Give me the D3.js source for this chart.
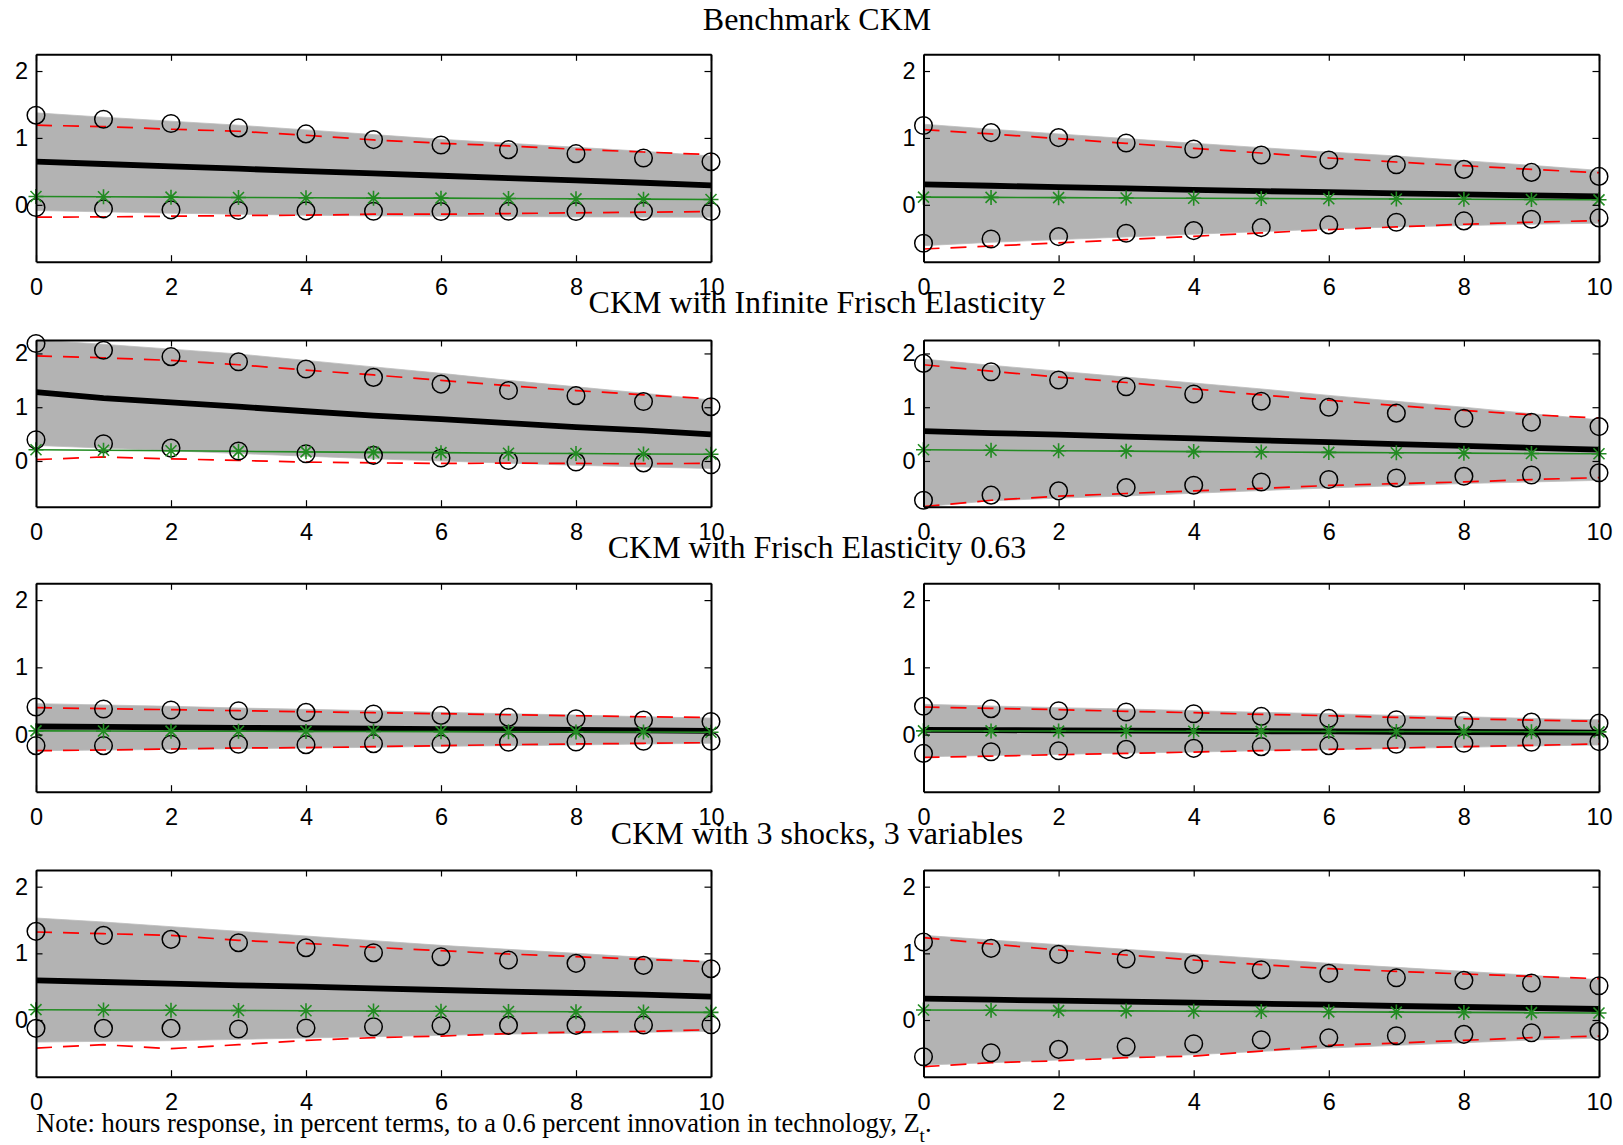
<!DOCTYPE html>
<html>
<head>
<meta charset="utf-8">
<script src="https://cdn.jsdelivr.net/npm/d3@7"></script>
<style>
  html, body { margin: 0; padding: 0; background: #fff; }
  svg { display: block; }
</style>
</head>
<body>
<script>
// ---------------- DATA ----------------
const titles = [
  "Benchmark CKM",
  "CKM with Infinite Frisch Elasticity",
  "CKM with Frisch Elasticity 0.63",
  "CKM with 3 shocks, 3 variables"
];
const noteText = "Note: hours response, in percent terms, to a 0.6 percent innovation in technology, Z";
const noteSub = "t";
const horizon = [0, 1, 2, 3, 4, 5, 6, 7, 8, 9, 10];
const xTickValues = [0, 2, 4, 6, 8, 10];
const yTickValues = [0, 1, 2];
const yRange = [-0.85, 2.25];

// panels in reading order: row1-left, row1-right, row2-left, ...
const bandUpper = [
  [1.375, 1.31, 1.25, 1.19, 1.12, 1.05, 0.98, 0.92, 0.86, 0.80, 0.73],
  [1.205, 1.13, 1.06, 0.99, 0.92, 0.855, 0.79, 0.73, 0.66, 0.59, 0.515],
  [2.25, 2.17, 2.08, 1.99, 1.87, 1.75, 1.63, 1.50, 1.38, 1.26, 1.135],
  [1.895, 1.78, 1.67, 1.56, 1.45, 1.34, 1.22, 1.11, 1.00, 0.88, 0.765],
  [0.46, 0.44, 0.42, 0.395, 0.375, 0.355, 0.33, 0.31, 0.29, 0.265, 0.245],
  [0.45, 0.425, 0.40, 0.38, 0.355, 0.33, 0.31, 0.285, 0.265, 0.24, 0.22],
  [1.53, 1.47, 1.40, 1.33, 1.26, 1.19, 1.12, 1.06, 1.00, 0.94, 0.875],
  [1.27, 1.20, 1.13, 1.06, 0.99, 0.92, 0.85, 0.79, 0.73, 0.67, 0.605]
];
const bandLower = [
  [-0.085, -0.105, -0.125, -0.14, -0.155, -0.165, -0.17, -0.175, -0.18, -0.183, -0.185],
  [-0.61, -0.56, -0.52, -0.48, -0.44, -0.40, -0.36, -0.33, -0.31, -0.29, -0.275],
  [0.29, 0.24, 0.19, 0.14, 0.09, 0.04, 0.00, -0.04, -0.08, -0.11, -0.14],
  [-0.85, -0.74, -0.69, -0.65, -0.60, -0.55, -0.50, -0.46, -0.42, -0.39, -0.36],
  [-0.24, -0.23, -0.22, -0.21, -0.2, -0.19, -0.175, -0.165, -0.155, -0.14, -0.13],
  [-0.33, -0.31, -0.295, -0.275, -0.26, -0.24, -0.225, -0.205, -0.19, -0.17, -0.155],
  [-0.33, -0.32, -0.31, -0.29, -0.27, -0.25, -0.23, -0.21, -0.20, -0.185, -0.17],
  [-0.675, -0.64, -0.60, -0.56, -0.52, -0.47, -0.42, -0.38, -0.34, -0.30, -0.27]
];
const dashUpper = [
  [1.19, 1.17, 1.13, 1.10, 1.04, 0.97, 0.92, 0.88, 0.83, 0.79, 0.75],
  [1.125, 1.06, 0.99, 0.92, 0.845, 0.775, 0.70, 0.64, 0.585, 0.53, 0.48],
  [1.955, 1.92, 1.87, 1.79, 1.69, 1.60, 1.50, 1.40, 1.31, 1.23, 1.155],
  [1.79, 1.67, 1.56, 1.46, 1.34, 1.23, 1.13, 1.03, 0.94, 0.86, 0.80],
  [0.40, 0.385, 0.37, 0.355, 0.34, 0.325, 0.31, 0.295, 0.28, 0.265, 0.255],
  [0.41, 0.39, 0.37, 0.345, 0.325, 0.30, 0.28, 0.255, 0.235, 0.215, 0.195],
  [1.32, 1.295, 1.27, 1.195, 1.15, 1.09, 1.04, 0.99, 0.95, 0.91, 0.875],
  [1.235, 1.14, 1.05, 0.975, 0.90, 0.83, 0.77, 0.73, 0.69, 0.655, 0.62]
];
const dashLower = [
  [-0.185, -0.18, -0.17, -0.16, -0.155, -0.14, -0.14, -0.13, -0.12, -0.11, -0.10],
  [-0.66, -0.615, -0.57, -0.52, -0.47, -0.42, -0.37, -0.33, -0.29, -0.26, -0.235],
  [0.025, 0.075, 0.04, 0.01, -0.02, -0.035, -0.045, -0.04, -0.045, -0.05, -0.045],
  [-0.85, -0.73, -0.655, -0.605, -0.555, -0.51, -0.455, -0.42, -0.39, -0.345, -0.31],
  [-0.24, -0.23, -0.215, -0.2, -0.195, -0.18, -0.165, -0.15, -0.14, -0.13, -0.12],
  [-0.34, -0.32, -0.30, -0.28, -0.26, -0.24, -0.22, -0.2, -0.18, -0.16, -0.14],
  [-0.42, -0.37, -0.43, -0.37, -0.305, -0.265, -0.24, -0.205, -0.18, -0.17, -0.145],
  [-0.70, -0.64, -0.61, -0.565, -0.54, -0.465, -0.38, -0.345, -0.305, -0.265, -0.24]
];
const circleUpper = [
  [1.34, 1.28, 1.215, 1.15, 1.06, 0.975, 0.895, 0.825, 0.765, 0.70, 0.645],
  [1.185, 1.08, 1.005, 0.925, 0.835, 0.745, 0.67, 0.60, 0.53, 0.485, 0.425],
  [2.185, 2.06, 1.94, 1.845, 1.71, 1.555, 1.43, 1.31, 1.215, 1.105, 1.01],
  [1.815, 1.66, 1.505, 1.38, 1.245, 1.11, 1.00, 0.89, 0.795, 0.72, 0.64],
  [0.41, 0.38, 0.365, 0.355, 0.33, 0.305, 0.285, 0.255, 0.235, 0.215, 0.195],
  [0.42, 0.385, 0.355, 0.335, 0.31, 0.27, 0.24, 0.22, 0.20, 0.185, 0.17],
  [1.33, 1.27, 1.21, 1.16, 1.085, 1.01, 0.95, 0.90, 0.85, 0.82, 0.77],
  [1.17, 1.075, 0.985, 0.915, 0.835, 0.755, 0.70, 0.635, 0.595, 0.555, 0.515]
];
const circleLower = [
  [-0.04, -0.06, -0.075, -0.085, -0.09, -0.095, -0.10, -0.095, -0.10, -0.095, -0.10],
  [-0.575, -0.51, -0.475, -0.425, -0.385, -0.34, -0.30, -0.26, -0.24, -0.215, -0.195],
  [0.395, 0.32, 0.24, 0.185, 0.135, 0.105, 0.055, 0.01, -0.02, -0.035, -0.07],
  [-0.73, -0.635, -0.555, -0.495, -0.45, -0.39, -0.345, -0.315, -0.285, -0.26, -0.22],
  [-0.165, -0.165, -0.145, -0.145, -0.15, -0.135, -0.14, -0.115, -0.11, -0.10, -0.10],
  [-0.28, -0.255, -0.24, -0.22, -0.205, -0.18, -0.165, -0.145, -0.13, -0.115, -0.105],
  [-0.125, -0.125, -0.125, -0.135, -0.12, -0.10, -0.085, -0.08, -0.08, -0.075, -0.07],
  [-0.55, -0.49, -0.44, -0.40, -0.355, -0.295, -0.265, -0.235, -0.215, -0.19, -0.17]
];
const meanResponse = [
  [0.645, 0.61, 0.575, 0.54, 0.505, 0.47, 0.435, 0.40, 0.365, 0.33, 0.29],
  [0.305, 0.285, 0.265, 0.245, 0.225, 0.205, 0.19, 0.17, 0.155, 0.14, 0.125],
  [1.28, 1.17, 1.09, 1.01, 0.925, 0.845, 0.78, 0.705, 0.63, 0.57, 0.495],
  [0.555, 0.52, 0.49, 0.455, 0.42, 0.385, 0.35, 0.315, 0.28, 0.245, 0.21],
  [0.12, 0.113, 0.107, 0.1, 0.094, 0.088, 0.081, 0.075, 0.068, 0.062, 0.055],
  [0.07, 0.066, 0.062, 0.058, 0.054, 0.05, 0.046, 0.042, 0.038, 0.034, 0.03],
  [0.595, 0.57, 0.545, 0.52, 0.50, 0.475, 0.45, 0.425, 0.405, 0.38, 0.35],
  [0.32, 0.305, 0.29, 0.275, 0.26, 0.245, 0.23, 0.21, 0.195, 0.18, 0.165]
];
const modelResponse = [
  [0.125, 0.12, 0.115, 0.11, 0.105, 0.10, 0.10, 0.095, 0.09, 0.085, 0.08],
  [0.115, 0.111, 0.107, 0.103, 0.099, 0.095, 0.091, 0.087, 0.083, 0.079, 0.075],
  [0.21, 0.20, 0.19, 0.18, 0.17, 0.16, 0.155, 0.145, 0.14, 0.13, 0.125],
  [0.21, 0.2, 0.19, 0.183, 0.175, 0.168, 0.16, 0.153, 0.146, 0.14, 0.135],
  [0.055, 0.053, 0.051, 0.049, 0.047, 0.045, 0.043, 0.041, 0.039, 0.037, 0.035],
  [0.055, 0.054, 0.052, 0.051, 0.049, 0.048, 0.046, 0.045, 0.043, 0.042, 0.04],
  [0.155, 0.151, 0.147, 0.143, 0.139, 0.135, 0.131, 0.127, 0.123, 0.119, 0.115],
  [0.15, 0.146, 0.141, 0.137, 0.132, 0.128, 0.123, 0.119, 0.114, 0.11, 0.105]
];

// ---------------- LAYOUT ----------------
const W = 1623, H = 1145;
const colX = [[36, 711], [923.5, 1599]];
const rowY = [[54.3, 261.7], [340, 506.7], [583.3, 791.7], [870, 1076.7]];
const titleBaseline = [29.5, 313, 557.5, 844];
const titleX = 817;
const tickFont = "'Liberation Sans', Arial, Helvetica, sans-serif";
const serifFont = "'Liberation Serif', 'Times New Roman', Times, serif";

const svg = d3.select("body").append("svg")
  .attr("width", W).attr("height", H)
  .attr("viewBox", `0 0 ${W} ${H}`);

svg.append("rect").attr("width", W).attr("height", H).attr("fill", "#fff");

const defs = svg.append("defs");
const asterisk = "M-7.5,0H7.5M0,-7.5V7.5M-5.5,-5.5L5.5,5.5M-5.5,5.5L5.5,-5.5";

for (let i = 0; i < 8; i++) {
  const r = Math.floor(i / 2), c = i % 2;
  const x = d3.scaleLinear().domain([0, 10]).range(colX[c]);
  const y = d3.scaleLinear().domain(yRange).range([rowY[r][1], rowY[r][0]]);
  const g = svg.append("g").attr("class", "panel");

  const clipId = "clip" + i;
  defs.append("clipPath").attr("id", clipId)
    .append("rect")
    .attr("x", colX[c][0]).attr("y", rowY[r][0])
    .attr("width", colX[c][1] - colX[c][0])
    .attr("height", rowY[r][1] - rowY[r][0]);

  const plot = g.append("g");
  const clipped = plot.append("g").attr("clip-path", `url(#${clipId})`);

  // band
  const area = d3.area()
    .x((d, j) => x(horizon[j]))
    .y0((d, j) => y(bandLower[i][j]))
    .y1((d, j) => y(bandUpper[i][j]));
  clipped.append("path").datum(horizon)
    .attr("d", area)
    .attr("fill", "#b3b3b3")
    .attr("stroke", "#bdbdbd").attr("stroke-width", 0.8);

  const line = arr => d3.line().x((d, j) => x(horizon[j])).y((d, j) => y(arr[j]))(horizon);

  // mean (thick black)
  clipped.append("path").attr("d", line(meanResponse[i]))
    .attr("fill", "none").attr("stroke", "#000").attr("stroke-width", 5.8);

  // red dashed bands
  [dashUpper[i], dashLower[i]].forEach(arr => {
    clipped.append("path").attr("d", line(arr))
      .attr("fill", "none").attr("stroke", "#ff0000")
      .attr("stroke-width", 1.7).attr("stroke-dasharray", "16,11");
  });

  // model (green with asterisks)
  plot.append("path").attr("d", line(modelResponse[i]))
    .attr("fill", "none").attr("stroke", "#228b22").attr("stroke-width", 1.6);

  // circles
  [circleUpper[i], circleLower[i]].forEach(arr => {
    plot.append("g").selectAll("circle").data(arr).join("circle")
      .attr("cx", (d, j) => x(horizon[j]))
      .attr("cy", d => y(d))
      .attr("r", 8.8)
      .attr("fill", "none").attr("stroke", "#000").attr("stroke-width", 1.5);
  });

  plot.append("g").selectAll("path").data(modelResponse[i]).join("path")
    .attr("transform", (d, j) => `translate(${x(horizon[j])},${y(d)})`)
    .attr("d", asterisk)
    .attr("fill", "none").attr("stroke", "#228b22").attr("stroke-width", 1.6);

  // axes
  const axB = g.append("g").attr("transform", `translate(0,${rowY[r][1]})`)
    .call(d3.axisBottom(x).tickValues(xTickValues).tickSizeInner(-6.5).tickSizeOuter(0).tickPadding(17));
  const axT = g.append("g").attr("transform", `translate(0,${rowY[r][0]})`)
    .call(d3.axisTop(x).tickValues(xTickValues).tickSizeInner(-6.5).tickSizeOuter(0).tickFormat(""));
  const axL = g.append("g").attr("transform", `translate(${colX[c][0]},0)`)
    .call(d3.axisLeft(y).tickValues(yTickValues).tickSizeInner(-6.5).tickSizeOuter(0).tickPadding(8).tickFormat(d3.format("d")));
  const axR = g.append("g").attr("transform", `translate(${colX[c][1]},0)`)
    .call(d3.axisRight(y).tickValues(yTickValues).tickSizeInner(-6.5).tickSizeOuter(0).tickFormat(""));

  [axB, axT, axL, axR].forEach(a => {
    a.select(".domain").attr("stroke", "#000").attr("stroke-width", 2);
    a.selectAll(".tick line").attr("stroke", "#000").attr("stroke-width", 1.2);
    a.selectAll("text").attr("font-family", tickFont).attr("font-size", 23.5).attr("fill", "#000");
  });
}

// titles
titles.forEach((t, k) => {
  svg.append("text")
    .attr("x", titleX).attr("y", titleBaseline[k])
    .attr("text-anchor", "middle")
    .attr("font-family", serifFont).attr("font-size", 32)
    .attr("fill", "#000")
    .text(t);
});

// note
const note = svg.append("text")
  .attr("x", 36).attr("y", 1132)
  .attr("font-family", serifFont).attr("font-size", 26.5)
  .attr("fill", "#000");
note.append("tspan").text(noteText);
note.append("tspan").attr("dy", 10).attr("font-size", 19).text(noteSub);
note.append("tspan").attr("dy", -10).text(".");
</script>
</body>
</html>
